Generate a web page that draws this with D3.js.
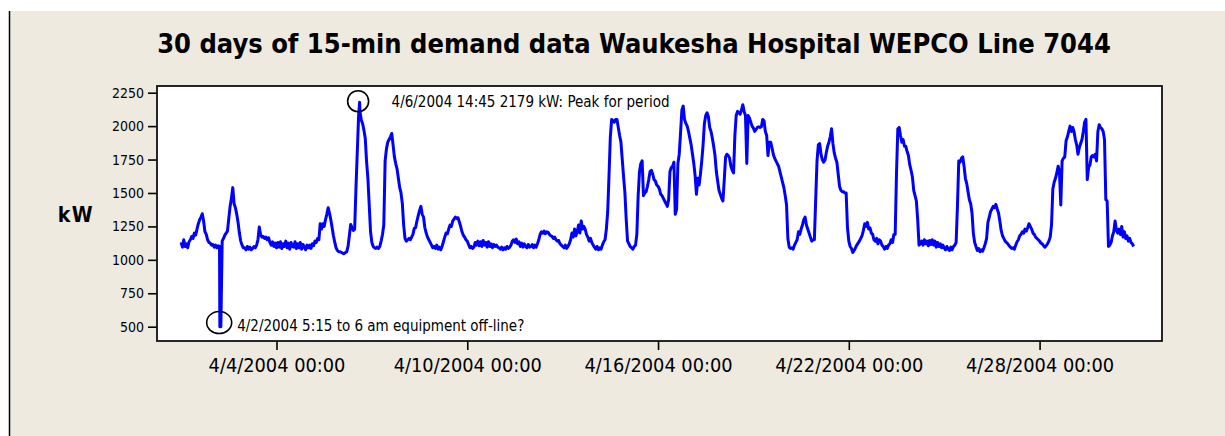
<!DOCTYPE html>
<html>
<head>
<meta charset="utf-8">
<script src="https://cdnjs.cloudflare.com/ajax/libs/d3/7.8.5/d3.min.js"></script>
<style>
    body { margin: 0; background: #fff; }
    text { font-family: Tahoma, "DejaVu Sans Condensed", "DejaVu Sans", sans-serif; fill: #000; }
</style>
</head>
<body>
<script>
// hourly kW readings, 4/1/2004 00:00 onward
let kwApr1to7 = [
    1130,1095,1150,1100,1120,1090,1135,1150,1175,1160,1200,1185,1230,1270,1300,1320,1345,1290,1210,1190,1150,1130,1125,1110,
    1115,1095,1110,1090,1105,1100,500,1140,1160,1185,1200,1215,1310,1400,1460,1540,1420,1390,1340,1280,1200,1140,1110,1090,
    1090,1075,1100,1080,1095,1075,1085,1100,1090,1110,1150,1245,1190,1170,1175,1160,1170,1150,1165,1130,1110,1135,1100,1125,
    1090,1130,1095,1135,1085,1120,1100,1140,1090,1125,1080,1130,1100,1095,1135,1085,1120,1090,1130,1080,1115,1095,1075,1110,
    1090,1110,1085,1120,1105,1140,1130,1160,1150,1270,1230,1270,1250,1300,1340,1390,1350,1300,1240,1180,1130,1090,1070,1060,
    1060,1055,1050,1045,1055,1060,1100,1180,1265,1240,1220,1230,1540,1810,2080,2110,2045,2020,1970,1910,1735,1610,1410,1210,
    1130,1100,1090,1085,1095,1085,1100,1140,1190,1260,1740,1830,1880,1900,1920,1945,1860,1770,1720,1680,1610,1540,1500,1420
];
let kwApr8to14 = [
    1260,1160,1140,1150,1160,1150,1170,1190,1235,1240,1290,1330,1370,1400,1340,1320,1240,1200,1170,1150,1130,1110,1090,1100,
    1085,1110,1080,1095,1075,1100,1135,1170,1200,1195,1230,1260,1250,1290,1305,1320,1310,1315,1285,1250,1210,1185,1170,1150,
    1140,1115,1090,1100,1085,1095,1130,1110,1140,1105,1135,1100,1145,1110,1130,1095,1135,1100,1120,1090,1115,1100,1110,1095,
    1090,1080,1095,1075,1090,1080,1100,1085,1095,1110,1140,1150,1130,1155,1120,1135,1100,1125,1095,1120,1100,1090,1115,1095,
    1100,1115,1090,1110,1095,1120,1150,1190,1210,1200,1215,1195,1210,1205,1190,1180,1175,1160,1170,1150,1140,1145,1120,1110,
    1100,1090,1110,1085,1100,1120,1150,1200,1170,1230,1180,1210,1260,1200,1290,1230,1250,1230,1190,1170,1140,1160,1130,1110,
    1095,1080,1100,1075,1090,1080,1110,1135,1150,1230,1360,1630,1920,2050,2040,2030,2050,2050,1990,1930,1880,1750,1620,1500
];
let kwApr15to21 = [
    1300,1140,1120,1100,1090,1080,1100,1110,1190,1480,1660,1720,1740,1480,1500,1510,1550,1600,1660,1670,1640,1600,1590,1560,
    1550,1530,1490,1480,1460,1440,1420,1400,1450,1660,1690,1700,1730,1340,1380,1720,1790,1950,2120,2150,2050,2020,2000,1960,
    1910,1860,1790,1720,1630,1490,1610,1560,1640,1740,1860,2020,2080,2100,2070,1990,1960,1910,1850,1780,1660,1590,1520,1490,
    1460,1440,1600,1770,1790,1780,1760,1700,1670,1650,1930,2080,2110,2100,2090,2120,2160,2110,2080,1720,2080,2060,2030,2000,
    1985,1960,1975,1990,1995,1990,1995,2050,2040,1960,1930,1780,1880,1880,1840,1790,1760,1740,1720,1700,1660,1620,1580,1540,
    1480,1410,1160,1095,1085,1090,1080,1110,1130,1150,1210,1190,1230,1260,1300,1320,1260,1230,1200,1170,1140,1150,1150,1450,
    1740,1860,1870,1790,1750,1730,1745,1800,1850,1880,1920,1980,1870,1800,1760,1730,1640,1550,1520,1510,1510,1500,1500,1240
];
let kwApr22to28 = [
    1140,1100,1085,1055,1070,1090,1110,1125,1140,1160,1180,1220,1270,1250,1280,1230,1240,1200,1190,1150,1140,1160,1120,1150,
    1140,1110,1100,1080,1100,1085,1110,1120,1150,1130,1190,1190,1650,1980,1990,1930,1880,1900,1850,1850,1810,1780,1710,1670,
    1620,1520,1480,1440,1300,1110,1120,1140,1110,1150,1120,1140,1105,1145,1115,1150,1110,1140,1095,1130,1100,1120,1090,1110,
    1090,1075,1100,1080,1070,1095,1075,1100,1110,1130,1400,1740,1730,1760,1770,1700,1610,1570,1510,1450,1420,1350,1200,1130,
    1100,1070,1085,1060,1075,1065,1090,1120,1160,1280,1320,1360,1380,1400,1390,1415,1380,1350,1290,1220,1180,1160,1140,1130,
    1120,1105,1095,1085,1090,1080,1110,1135,1150,1180,1190,1210,1200,1230,1215,1240,1270,1250,1230,1200,1190,1170,1160,1150,
    1140,1125,1120,1105,1095,1105,1120,1140,1170,1260,1530,1580,1610,1650,1700,1660,1410,1740,1760,1770,1890,1920,1960,2000
];
let kwApr29to30 = [
    1960,1990,1960,1900,1860,1790,1840,1870,1900,1960,2030,2050,1600,1690,1710,1770,1780,1770,1790,1740,1960,2010,1990,1980,
    1960,1900,1450,1440,1100,1110,1130,1180,1210,1290,1220,1200,1230,1190,1250,1170,1210,1160,1180,1140,1160,1130,1120,1100
];

// 15-min readings worth showing on their own
let offlineTimes = ["2004-04-02 05:15", "2004-04-02 05:30", "2004-04-02 05:45"];
let offlineKw = [500, 505, 500];
let peakTime = "2004-04-06 14:45";
let peakKw = 2179;

let yTicks = [500, 750, 1000, 1250, 1500, 1750, 2000, 2250];
let xTickDays = ["2004-04-04", "2004-04-10", "2004-04-16", "2004-04-22", "2004-04-28"];

let title = "30 days of 15-min demand data Waukesha Hospital WEPCO Line 7044";
let peakNote = "4/6/2004 14:45 2179 kW: Peak for period";
let offlineNote = "4/2/2004 5:15 to 6 am equipment off-line?";

const W = 1225, H = 436;
const plot = { left: 157, top: 86, right: 1162, bottom: 341 };

let parseTime = d3.utcParse("%Y-%m-%d %H:%M");
let parseDay = d3.utcParse("%Y-%m-%d");
let start = Date.UTC(2004, 3, 1);

let hourly = [].concat(kwApr1to7, kwApr8to14, kwApr15to21, kwApr22to28, kwApr29to30)
    .map((kw, i) => ({ t: new Date(start + i * 3600e3), kw }));
let extra = offlineTimes.map((s, i) => ({ t: parseTime(s), kw: offlineKw[i] }));
extra.push({ t: parseTime(peakTime), kw: peakKw });
let series = hourly.concat(extra).sort((a, b) => a.t - b.t);

let svg = d3
    .select("body")
    .append("svg")
    .attr("width", W)
    .attr("height", H);

// page background like the Minitab graph window
svg.append("rect").attr("x", 0).attr("y", 0).attr("width", W).attr("height", H).attr("fill", "#fff");
svg.append("rect").attr("x", 10).attr("y", 11).attr("width", W - 10).attr("height", H - 11).attr("fill", "#eeeae0");
svg.append("line").attr("x1", 9.5).attr("x2", 9.5).attr("y1", 11).attr("y2", H)
    .attr("stroke", "#000").attr("stroke-width", 1.5);

let x = d3.scaleUtc()
    .domain([new Date(start - 0.758 * 864e5), new Date(start + 30.85 * 864e5)])
    .range([plot.left, plot.right]);
let y = d3.scaleLinear()
    .domain([393, 2300])
    .range([plot.bottom, plot.top]);

svg.append("rect")
    .attr("x", plot.left).attr("y", plot.top)
    .attr("width", plot.right - plot.left).attr("height", plot.bottom - plot.top)
    .attr("fill", "#fff");

let xAxis = svg.append("g")
    .attr("transform", `translate(0,${plot.bottom})`)
    .call(d3.axisBottom(x)
        .tickValues(xTickDays.map(parseDay))
        .tickFormat(d3.utcFormat("%-m/%-d/%Y %H:%M"))
        .tickSize(9).tickSizeOuter(0).tickPadding(8));
let yAxis = svg.append("g")
    .attr("transform", `translate(${plot.left},0)`)
    .call(d3.axisLeft(y).tickValues(yTicks).tickFormat(d3.format("d"))
        .tickSize(9).tickSizeOuter(0).tickPadding(4));

[xAxis, yAxis].forEach((g) => {
    g.select(".domain").remove();
    g.selectAll(".tick line").attr("stroke", "#000").attr("stroke-width", 1.6);
    g.selectAll("text").attr("font-family", null).attr("fill", "#000");
});
xAxis.selectAll("text").attr("font-size", 19.8);
yAxis.selectAll("text").attr("font-size", 14);

let line = d3.line()
    .x((d) => x(d.t))
    .y((d) => y(d.kw));

svg.append("path")
    .datum(series)
    .attr("d", line)
    .attr("fill", "none")
    .attr("stroke", "#0000ff")
    .attr("stroke-width", 3)
    .attr("stroke-linejoin", "round");

// frame on top of the data
svg.append("rect")
    .attr("x", plot.left).attr("y", plot.top)
    .attr("width", plot.right - plot.left).attr("height", plot.bottom - plot.top)
    .attr("fill", "none")
    .attr("stroke", "#111")
    .attr("stroke-width", 1.8);

// annotations
let pk = { x: x(parseTime(peakTime)), y: y(peakKw) };
svg.append("circle").attr("cx", pk.x - 1.5).attr("cy", pk.y - 1).attr("r", 10.5)
    .attr("fill", "none").attr("stroke", "#000").attr("stroke-width", 1.6);
svg.append("text").attr("x", pk.x + 32).attr("y", pk.y + 4.5)
    .attr("font-size", 15).text(peakNote);

let off = { x: x(parseTime(offlineTimes[1])), y: y(offlineKw[1]) };
svg.append("ellipse").attr("cx", off.x - 1).attr("cy", off.y - 3.5).attr("rx", 12.5).attr("ry", 11)
    .attr("fill", "none").attr("stroke", "#000").attr("stroke-width", 1.6);
svg.append("text").attr("x", off.x + 17).attr("y", off.y + 4.5)
    .attr("font-size", 15).text(offlineNote);

svg.append("text")
    .attr("x", 634).attr("y", 53)
    .attr("text-anchor", "middle")
    .attr("font-size", 27).attr("font-weight", "bold")
    .text(title);

svg.append("text")
    .attr("x", 76).attr("y", 222)
    .attr("text-anchor", "middle")
    .attr("font-size", 21).attr("font-weight", "bold")
    .attr("letter-spacing", 1.5)
    .text("kW");
</script>
</body>
</html>
